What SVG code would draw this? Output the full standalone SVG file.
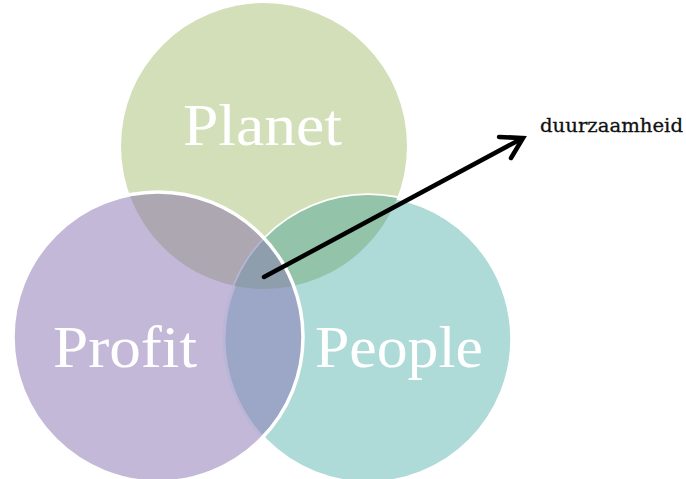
<svg xmlns="http://www.w3.org/2000/svg" width="686" height="479" viewBox="0 0 686 479">
  <defs>
    <clipPath id="cPlanet"><circle cx="264" cy="146" r="143"/></clipPath>
    <clipPath id="cProfit"><circle cx="158" cy="337" r="145"/></clipPath>
    <clipPath id="cPeople"><circle cx="368" cy="339" r="144"/></clipPath>
    <mask id="outProfit">
      <rect x="0" y="0" width="686" height="479" fill="#fff"/>
      <circle cx="158" cy="337" r="145" fill="#000"/>
    </mask>
  </defs>
  <style>
    .lbl { font-family: "Liberation Serif", "DejaVu Serif", serif; font-size: 60px; fill: #ffffff; }
    .note { font-family: "DejaVu Serif", "Liberation Serif", serif; font-size: 19px; fill: #111111; stroke: #111111; stroke-width: 0.3; }
    .edge { fill: none; stroke: #ffffff; stroke-width: 3.5; }
  </style>
  <rect width="686" height="479" fill="#ffffff"/>

  <g id="planet">
    <circle cx="264" cy="146" r="143" fill="#d3dfb8"/>
  </g>
  <g id="people">
    <circle cx="368" cy="339" r="144" fill="#aedad8"/>
    <circle cx="368" cy="339" r="144" class="edge" mask="url(#outProfit)"/>
  </g>
  <g id="profit">
    <circle cx="158" cy="337" r="145" fill="#c4b8d8"/>
  </g>
  <g id="overlaps">
    <g clip-path="url(#cPlanet)">
      <circle cx="158" cy="337" r="145" fill="#aca7b0"/>
      <circle cx="368" cy="339" r="144" fill="#93c4a9"/>
    </g>
    <g clip-path="url(#cProfit)">
      <circle cx="368" cy="339" r="144" fill="#9ca6c6"/>
      <circle cx="368" cy="339" r="144" fill="none" stroke="#b9b6d8" stroke-width="3"/>
    </g>
    <g clip-path="url(#cProfit)">
      <g clip-path="url(#cPeople)">
        <circle cx="264" cy="146" r="143" fill="#8f9eac"/>
      </g>
    </g>
    <circle cx="158" cy="337" r="145" class="edge"/>
  </g>

  <g id="labels">
    <text class="lbl" x="183" y="145" textLength="159" lengthAdjust="spacingAndGlyphs">Planet</text>
    <text class="lbl" x="53" y="367" textLength="144" lengthAdjust="spacingAndGlyphs">Profit</text>
    <text class="lbl" x="315" y="367" textLength="168" lengthAdjust="spacingAndGlyphs">People</text>
  </g>

  <g id="connectors">
    <path d="M264,277 L521,139" fill="none" stroke="#000" stroke-width="4.5" stroke-linecap="round"/>
    <path d="M499,137 L523,138 L511,158" fill="none" stroke="#000" stroke-width="4.5" stroke-linecap="round" stroke-linejoin="miter"/>
  </g>

  <g id="duurzaamheid">
    <text class="note" x="540" y="132" textLength="143" lengthAdjust="spacingAndGlyphs">duurzaamheid</text>
  </g>
</svg>
